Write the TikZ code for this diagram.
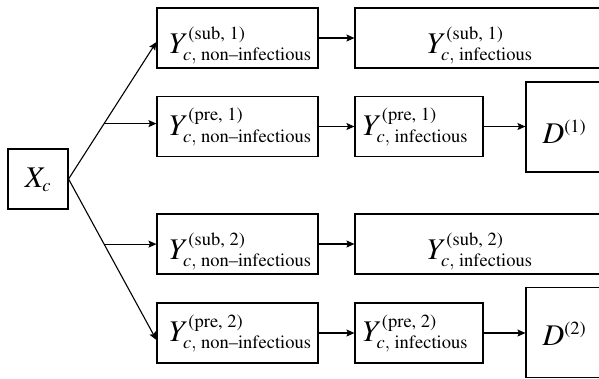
\documentclass[tikz,border=0pt]{standalone}
\usepackage{amsmath}
\usepackage{mathptmx}
\newcommand{\tms}{\fontencoding{OT1}\fontfamily{ptm}\selectfont}
\newcommand{\tx}[1]{\text{\tms #1}}
\DeclareMathSizes{30}{30}{18.5}{14}
\usetikzlibrary{arrows.meta,calc}
\begin{document}
\begin{tikzpicture}[x=1pt,y=-1pt,
  box/.style={draw, line width=1.1pt, inner sep=0pt, font=\tms\fontsize{30}{36}\selectfont},
  ybox/.style={box, minimum width=161pt, minimum height=60pt},
  ibox/.style={box, minimum width=128pt, minimum height=60pt},
  wbox/.style={box, minimum width=250pt, minimum height=60pt},
  dbox/.style={box, minimum width=77pt, minimum height=90pt},
  subrow/.style={text height=40pt, text depth=10pt},
  prerow/.style={text height=34pt, text depth=17pt},
  arr/.style={-{Stealth[length=8pt,width=7pt,inset=1.5pt]}, line width=1.1pt}]
\clip (0,0) rectangle (599,378);
\node[box, minimum width=60pt, minimum height=60pt, text height=30pt, text depth=14pt] (X) at (38,179) {$X_c$};
\node[ybox, subrow] (s1n) at (237.5,38) {\hspace*{6pt}$Y^{\tx{(sub, 1)}}_{c,\tx{ non--infectious}}$};
\node[wbox, subrow] (s1i) at (480,38) {$Y^{\tx{(sub, 1)}}_{c,\tx{ infectious}}$};
\node[ybox, prerow] (p1n) at (237.5,126.5) {\hspace*{6pt}$Y^{\tx{(pre, 1)}}_{c,\tx{ non--infectious}}$};
\node[ibox, prerow] (p1i) at (419,126.5) {$Y^{\tx{(pre, 1)}}_{c,\tx{ infectious}}$\hspace*{7pt}};
\node[dbox, text height=40pt, text depth=8pt] (d1) at (564.5,127) {$D^{\tx{(1)}}$};
\node[ybox, subrow] (s2n) at (237.5,244) {\hspace*{6pt}$Y^{\tx{(sub, 2)}}_{c,\tx{ non--infectious}}$};
\node[wbox, subrow] (s2i) at (480,244) {$Y^{\tx{(sub, 2)}}_{c,\tx{ infectious}}$};
\node[ybox, prerow] (p2n) at (237.5,333) {\hspace*{6pt}$Y^{\tx{(pre, 2)}}_{c,\tx{ non--infectious}}$};
\node[ibox, prerow] (p2i) at (419,333) {$Y^{\tx{(pre, 2)}}_{c,\tx{ infectious}}$\hspace*{7pt}};
\node[dbox, text height=35pt, text depth=10pt] (d2) at (564.5,332.5) {$D^{\tx{(2)}}$};
\coordinate (t1) at ([yshift=-4pt]s1n.west);
\coordinate (t2) at ([yshift=-7pt]p2n.west);
\coordinate (b1) at ($(X.east)!0.4045!(t1)$);
\coordinate (b2) at ($(X.east)!0.4045!(t2)$);
\draw[arr] (X.east) -- (t1);
\draw[arr] (X.east) -- (t2);
\draw[arr] (b1) -- (b1 -| p1n.west);
\draw[arr] (b2) -- (b2 -| s2n.west);
\draw[arr] (s1n) -- (s1i);
\draw[arr] (p1n) -- (p1i);
\draw[arr] (p1i) -- (d1.west |- p1i);
\draw[arr] (s2n) -- (s2i);
\draw[arr] (p2n) -- (p2i);
\draw[arr] (p2i) -- (d2.west |- p2i);
\end{tikzpicture}
\end{document}
